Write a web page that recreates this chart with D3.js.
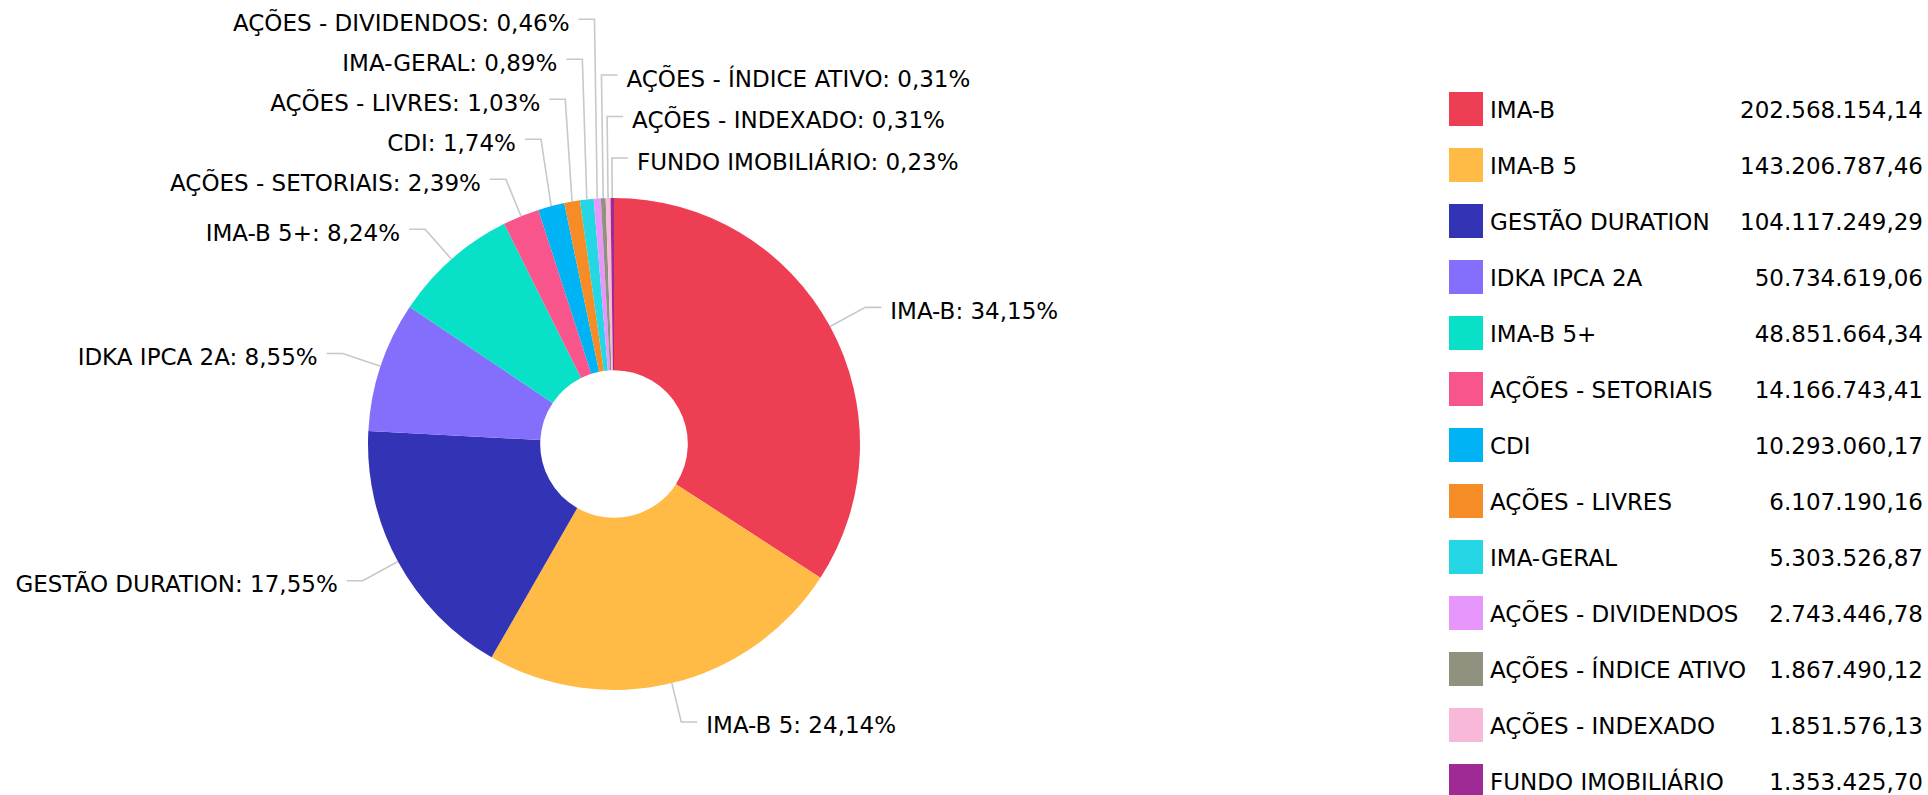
<!DOCTYPE html>
<html>
<head>
<meta charset="utf-8">
<script src="https://cdn.jsdelivr.net/npm/d3@7"></script>
<style>
  html, body { margin: 0; padding: 0; background: #fff; }
  svg { display: block; }
  text { font-family: "DejaVu Sans", Verdana, sans-serif; fill: #000; }
</style>
</head>
<body>
<svg id="chart" width="1928" height="795"></svg>
<script>
// ---- data ----
const categories = [
  "IMA-B", "IMA-B 5", "GESTÃO DURATION", "IDKA IPCA 2A", "IMA-B 5+",
  "AÇÕES - SETORIAIS", "CDI", "AÇÕES - LIVRES", "IMA-GERAL",
  "AÇÕES - DIVIDENDOS", "AÇÕES - ÍNDICE ATIVO", "AÇÕES - INDEXADO", "FUNDO IMOBILIÁRIO"
];
const values = [
  202568154.14, 143206787.46, 104117249.29, 50734619.06, 48851664.34,
  14166743.41, 10293060.17, 6107190.16, 5303526.87,
  2743446.78, 1867490.12, 1851576.13, 1353425.70
];
const colors = [
  "#ee3e54", "#ffbb46", "#3333b5", "#836ffc", "#08e0c7",
  "#f8558d", "#00b3f5", "#f68c25", "#25d6e4",
  "#e796fb", "#90917f", "#f7b9d7", "#a02a95"
];

// ---- layout ----
const W = 1928, H = 795;
const cx = 614, cy = 444, R = 246, innerR = R * 0.3;
const tickExt = 40, hLen = 16, gap = 9;

const ptBR = d3.formatLocale({ decimal: ",", thousands: ".", grouping: [3], currency: ["R$ ", ""] });
const fmtVal = ptBR.format(",.2f");
const fmtPct = ptBR.format(".2f");

const svg = d3.select("#chart");
const total = d3.sum(values);
const data = categories.map((c, i) => ({ name: c, value: values[i], color: colors[i] }));

const pie = d3.pie().sort(null).value(d => d.value).startAngle(0).endAngle(2 * Math.PI);
const arcs = pie(data);
const arc = d3.arc().innerRadius(innerR).outerRadius(R);

const g = svg.append("g").attr("transform", `translate(${cx},${cy})`);

g.selectAll("path.slice").data(arcs).join("path")
  .attr("class", "slice")
  .attr("d", arc)
  .attr("fill", d => d.data.color);

// label placement
arcs.forEach(d => {
  const a = (d.startAngle + d.endAngle) / 2;
  d.mid = a;
  d.signed = a > Math.PI ? a - 2 * Math.PI : a;
  d.sin = Math.sin(a); d.cos = Math.cos(a);
  d.right = d.sin >= -0.055;
  d.edge = [R * d.sin, -R * d.cos];
  d.kneeX = (R + tickExt) * d.sin;
  d.natY = -(R + tickExt) * d.cos;
});

function resolve(list, spacing) {
  let prev = Infinity;
  list.forEach(d => {
    d.ly = Math.min(d.natY, prev - spacing);
    prev = d.ly;
  });
}
resolve(arcs.filter(d => d.right).sort((a, b) => b.signed - a.signed), 41.5);
resolve(arcs.filter(d => !d.right).sort((a, b) => a.signed - b.signed), 40);

const lg = g.append("g");
lg.selectAll("path.tick").data(arcs).join("path")
  .attr("class", "tick")
  .attr("fill", "none")
  .attr("stroke", "#c8c8c8")
  .attr("stroke-width", 1.6)
  .attr("d", d => {
    const endX = d.kneeX + (d.right ? hLen : -hLen);
    return `M${d.edge[0]},${d.edge[1]}L${d.kneeX},${d.ly}L${endX},${d.ly}`;
  });

lg.selectAll("text.lbl").data(arcs).join("text")
  .attr("class", "lbl")
  .attr("x", d => d.kneeX + (d.right ? hLen + gap : -(hLen + gap)))
  .attr("y", d => d.ly + 3.5)
  .attr("dominant-baseline", "central")
  .attr("text-anchor", d => d.right ? "start" : "end")
  .style("font-size", "23px")
  .text(d => `${d.data.name}: ${fmtPct(d.data.value / total * 100)}%`);

// ---- legend ----
const legX = 1449, legY0 = 109, legStep = 56, sw = 34;
const leg = svg.append("g");
const rows = leg.selectAll("g.row").data(data).join("g")
  .attr("class", "row")
  .attr("transform", (d, i) => `translate(0,${legY0 + i * legStep})`);
rows.append("rect")
  .attr("x", legX).attr("y", -sw / 2).attr("width", sw).attr("height", sw)
  .attr("fill", d => d.color);
rows.append("text")
  .attr("x", legX + sw + 7).attr("y", 1)
  .attr("dominant-baseline", "central")
  .style("font-size", "23px")
  .text(d => d.name);
rows.append("text")
  .attr("x", 1923).attr("y", 1)
  .attr("dominant-baseline", "central")
  .attr("text-anchor", "end")
  .style("font-size", "23px")
  .text(d => fmtVal(d.value));
</script>
</body>
</html>
